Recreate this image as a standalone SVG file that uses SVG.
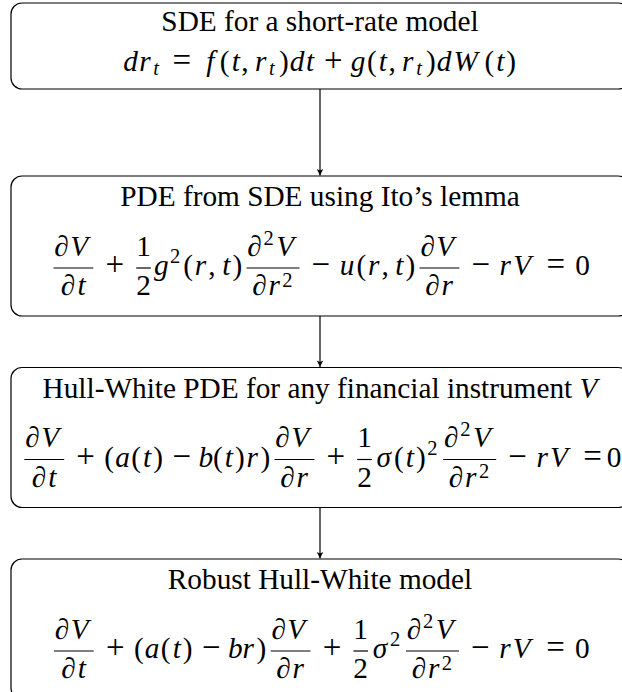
<svg xmlns="http://www.w3.org/2000/svg" width="622" height="692" viewBox="0 0 622 692">
<style>
.box{fill:none;stroke:#000;stroke-width:1.2}
.ttl{font-family:"Liberation Serif","Times New Roman",serif;font-size:29.3px;text-anchor:middle;fill:#000}
.mi{font-family:"Liberation Serif","Times New Roman",serif;font-size:29.3px;font-style:italic;text-anchor:middle;fill:#000}
.up{font-style:normal}
.sc{font-size:20.5px}
.op{font-size:33px}
.bar{stroke:#000;stroke-width:1.2}
.conn{stroke:#000;stroke-width:1.2;fill:none}
</style>
<defs>
<marker id="arr" markerUnits="userSpaceOnUse" markerWidth="10" markerHeight="10" refX="0" refY="0" viewBox="-8 -5 10 10" orient="auto">
<path d="M0,0 L-6.5,-3.2 L-5,0 L-6.5,3.2 Z" fill="#000"/>
</marker>
</defs>
<g id="connectors">
<line class="conn" x1="320" y1="89" x2="320" y2="175.4" marker-end="url(#arr)"/>
<line class="conn" x1="320" y1="316" x2="320" y2="366.9" marker-end="url(#arr)"/>
<line class="conn" x1="320" y1="507.5" x2="320" y2="558.4" marker-end="url(#arr)"/>
</g>
<g id="node1">
<rect class="box" x="11" y="3" width="618" height="86" rx="11"/>
<text class="ttl" x="320" y="31">SDE for a short-rate model</text>
<text class="mi" font-family="Liberation Serif" y="71"><tspan x="130.7 145.0">dr</tspan><tspan class="sc" x="156.2" y="75.4">t</tspan><tspan class="up op" x="181.9" y="71">=</tspan><tspan x="210.2">f</tspan><tspan class="up" x="224.7">(</tspan><tspan x="235.7">t</tspan><tspan class="up" x="245.0">,</tspan><tspan x="260.6">r</tspan><tspan class="sc" x="271.9" y="75.4">t</tspan><tspan class="up" x="283.8" y="71">)</tspan><tspan x="297.1 310.0">dt</tspan><tspan class="up op" x="333.2">+</tspan><tspan x="358.1">g</tspan><tspan class="up" x="371.8">(</tspan><tspan x="382.8">t</tspan><tspan class="up" x="392.2">,</tspan><tspan x="407.8">r</tspan><tspan class="sc" x="419.0" y="75.4">t</tspan><tspan class="up" x="430.9" y="71">)</tspan><tspan x="444.2 465.6">dW</tspan><tspan class="up" x="489.3">(</tspan><tspan x="500.2">t</tspan><tspan class="up" x="511.2">)</tspan></text>
</g>
<g id="node2">
<rect class="box" x="11" y="176" width="618" height="140" rx="11"/>
<text class="ttl" x="320" y="206.3">PDE from SDE using Ito’s lemma</text>
<text class="mi" font-family="Liberation Serif" y="275.3"><tspan class="up op" x="114.8">+</tspan><tspan x="161.3">g</tspan><tspan class="up sc" x="175.2" y="263.2">2</tspan><tspan class="up" x="188.2" y="275.3">(</tspan><tspan x="200.5">r</tspan><tspan class="up" x="212.0">,</tspan><tspan x="226.3">t</tspan><tspan class="up" x="237.3">)</tspan><tspan class="up op" x="320.9">−</tspan><tspan x="347.2">u</tspan><tspan class="up" x="361.3">(</tspan><tspan x="373.6">r</tspan><tspan class="up" x="385.1">,</tspan><tspan x="399.3">t</tspan><tspan class="up" x="410.3">)</tspan><tspan class="up op" x="480.8">−</tspan><tspan x="505.3 522.1">rV</tspan><tspan class="up op" x="555.9">=</tspan><tspan class="up" x="582.7">0</tspan></text>
<text class="mi" font-family="Liberation Serif" y="255.5"><tspan x="61.6 79.25">∂V</tspan><tspan class="up" x="143.5">1</tspan><tspan x="254.6">∂</tspan><tspan class="up sc" x="268.6" y="244.9">2</tspan><tspan x="285.2" y="255.5">V</tspan><tspan x="427.7 445.2">∂V</tspan></text>
<text class="mi" font-family="Liberation Serif" y="295.4"><tspan x="68.1 81.6">∂t</tspan><tspan class="up" x="143.5">2</tspan><tspan x="259.4 274.1">∂r</tspan><tspan class="up sc" x="287.3" y="286.9">2</tspan><tspan x="432.4 447.2" y="295.4">∂r</tspan></text>
<line class="bar" x1="53.5" y1="268" x2="93.3" y2="268"/>
<line class="bar" x1="136.2" y1="268" x2="150.8" y2="268"/>
<line class="bar" x1="246.5" y1="268" x2="299.5" y2="268"/>
<line class="bar" x1="419.5" y1="268" x2="459.4" y2="268"/>
</g>
<g id="node3">
<rect class="box" x="11" y="367.5" width="618" height="140" rx="11"/>
<text class="ttl" x="320" y="397.8">Hull-White PDE for any financial instrument <tspan font-style="italic">V</tspan></text>
<text class="mi" font-family="Liberation Serif" y="466.8"><tspan class="up op" x="85.6">+</tspan><tspan class="up" x="109.2">(</tspan><tspan x="122.7">a</tspan><tspan class="up" x="136.1">(</tspan><tspan x="147.1">t</tspan><tspan class="up" x="158.1">)</tspan><tspan class="up op" x="181.7">−</tspan><tspan x="205.9">b</tspan><tspan class="up" x="217.9">(</tspan><tspan x="228.8">t</tspan><tspan class="up" x="239.8">)</tspan><tspan x="252.2">r</tspan><tspan class="up" x="265.3">)</tspan><tspan class="up op" x="335.8">+</tspan><tspan x="383.8">σ</tspan><tspan class="up" x="398.9">(</tspan><tspan x="409.8">t</tspan><tspan class="up" x="420.8">)</tspan><tspan class="up sc" x="432.3" y="454.7">2</tspan><tspan class="up op" x="517.6" y="466.8">−</tspan><tspan x="542.1 558.9">rV</tspan><tspan class="up op" x="592.6">=</tspan><tspan class="up" x="614">0</tspan></text>
<text class="mi" font-family="Liberation Serif" y="447"><tspan x="32.5 50.1">∂V</tspan><tspan x="282.6 300.1">∂V</tspan><tspan class="up" x="364.5">1</tspan><tspan x="451.3">∂</tspan><tspan class="up sc" x="465.3" y="436.4">2</tspan><tspan x="481.9" y="447">V</tspan></text>
<text class="mi" font-family="Liberation Serif" y="486.9"><tspan x="39.0 52.4">∂t</tspan><tspan x="287.4 302.2">∂r</tspan><tspan class="up" x="364.5">2</tspan><tspan x="456.1 470.8">∂r</tspan><tspan class="up sc" x="484.0" y="478.4">2</tspan></text>
<line class="bar" x1="24.3" y1="459.5" x2="64.2" y2="459.5"/>
<line class="bar" x1="274.5" y1="459.5" x2="314.4" y2="459.5"/>
<line class="bar" x1="357.2" y1="459.5" x2="371.8" y2="459.5"/>
<line class="bar" x1="443.2" y1="459.5" x2="496.2" y2="459.5"/>
</g>
<g id="node4">
<rect class="box" x="11" y="559" width="618" height="140" rx="11"/>
<text class="ttl" x="320" y="589.3">Robust Hull-White model</text>
<text class="mi" font-family="Liberation Serif" y="658.3"><tspan class="up op" x="115.2">+</tspan><tspan class="up" x="138.8">(</tspan><tspan x="152.2">a</tspan><tspan class="up" x="165.7">(</tspan><tspan x="176.7">t</tspan><tspan class="up" x="187.6">)</tspan><tspan class="up op" x="211.2">−</tspan><tspan x="235.4 248.3">br</tspan><tspan class="up" x="261.5">)</tspan><tspan class="up op" x="332.0">+</tspan><tspan x="380.0">σ</tspan><tspan class="up sc" x="395.2" y="646.2">2</tspan><tspan class="up op" x="480.4" y="658.3">−</tspan><tspan x="504.9 521.7">rV</tspan><tspan class="up op" x="555.5">=</tspan><tspan class="up" x="582.3">0</tspan></text>
<text class="mi" font-family="Liberation Serif" y="638.5"><tspan x="62.0 79.65">∂V</tspan><tspan x="278.8 296.3">∂V</tspan><tspan class="up" x="360.7">1</tspan><tspan x="414.1">∂</tspan><tspan class="up sc" x="428.1" y="627.9">2</tspan><tspan x="444.7" y="638.5">V</tspan></text>
<text class="mi" font-family="Liberation Serif" y="678.4"><tspan x="68.5 81.9">∂t</tspan><tspan x="283.6 298.3">∂r</tspan><tspan class="up" x="360.7">2</tspan><tspan x="418.9 433.6">∂r</tspan><tspan class="up sc" x="446.8" y="669.9">2</tspan></text>
<line class="bar" x1="53.9" y1="651" x2="93.7" y2="651"/>
<line class="bar" x1="270.7" y1="651" x2="310.5" y2="651"/>
<line class="bar" x1="353.4" y1="651" x2="368.0" y2="651"/>
<line class="bar" x1="406.0" y1="651" x2="459.0" y2="651"/>
</g>
</svg>
